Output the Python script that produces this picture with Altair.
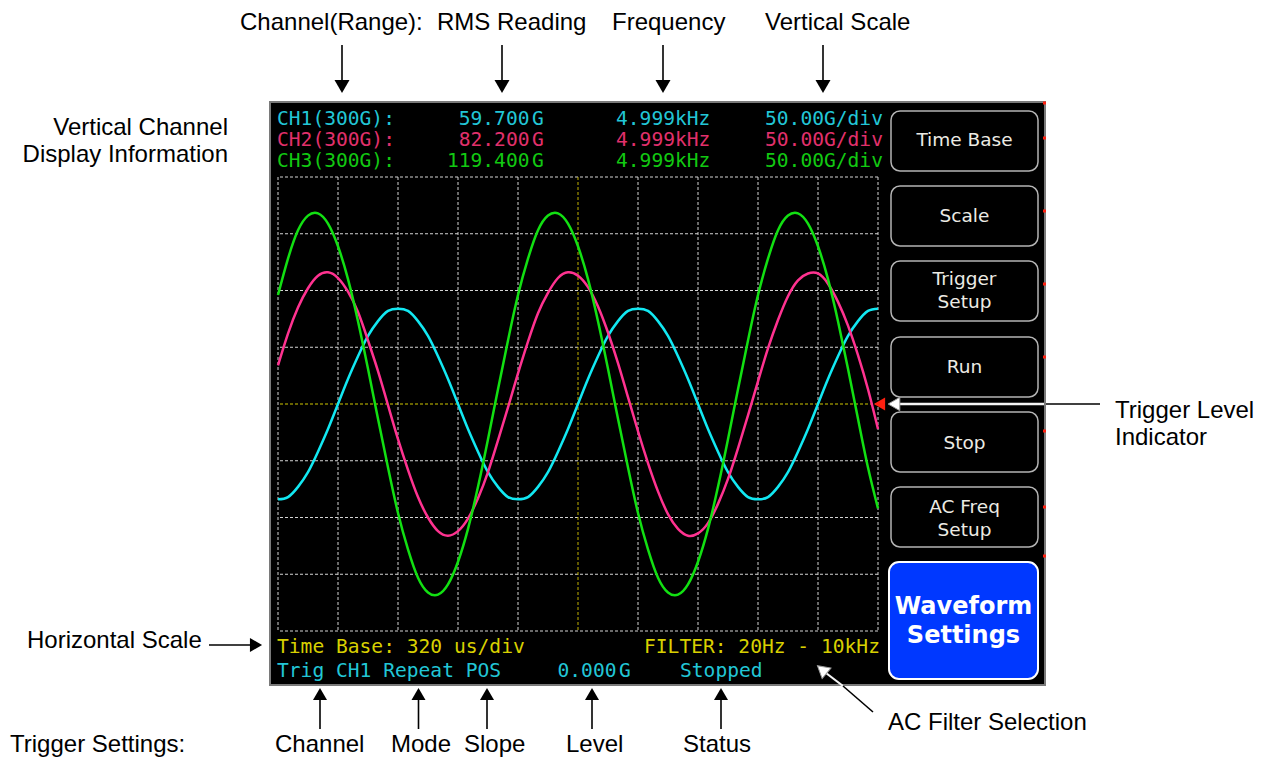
import altair as alt
import pandas as pd

# ---------------- data ----------------
SAMPLES_PER_DIV = 6
TIME_PER_DIV_US = 320
SAMPLE_US = [round(i * TIME_PER_DIV_US / SAMPLES_PER_DIV, 2) for i in range(61)]

CH1_G = [-84, -82, -73, -60, -42, -22, 0, 22, 42, 60, 73, 82, 84, 82, 73, 60, 42, 22, 0, -22, -42, -60, -73, -82,
         -84, -82, -73, -60, -42, -22, 0, 22, 42, 60, 73, 82, 84, 82, 73, 60, 42, 22, 0, -22, -42, -60, -73, -82,
         -84, -82, -73, -60, -42, -22, 0, 22, 42, 60, 73, 82, 84]
CH2_G = [34, 62, 85, 102, 113, 116, 111, 99, 81, 56, 29, -1, -31, -58, -82, -100, -112, -116, -112, -101, -83, -60, -32, -3,
         27, 55, 80, 98, 111, 116, 113, 103, 86, 63, 36, 6, -24, -52, -77, -97, -110, -116, -114, -105, -88, -66, -39, -10,
         20, 49, 74, 95, 109, 115, 115, 106, 90, 69, 43, 13, -22]
CH3_G = [96, 128, 153, 166, 168, 159, 139, 110, 73, 31, -13, -56, -96, -128, -153, -166, -168, -159, -139, -110, -73, -31, 13, 56,
         96, 128, 153, 166, 168, 159, 139, 110, 73, 31, -13, -56, -96, -128, -153, -166, -168, -159, -139, -110, -73, -31, 13, 56,
         96, 128, 153, 166, 168, 159, 139, 110, 73, 31, -13, -56, -92]

CHANNELS = ["CH1", "CH2", "CH3"]
CHANNEL_LABELS = ["CH1(300G):", "CH2(300G):", "CH3(300G):"]
RMS_VALUES = ["59.700", "82.200", "119.400"]
RMS_UNIT = "G"
FREQUENCIES = ["4.999kHz", "4.999kHz", "4.999kHz"]
VERTICAL_SCALES = ["50.00G/div", "50.00G/div", "50.00G/div"]

TIME_GRID_US = [0, 320, 640, 960, 1280, 1600, 1920, 2240, 2560, 2880, 3200]
LEVEL_GRID_G = [-200, -150, -100, -50, 0, 50, 100, 150, 200]
TRIGGER_TIME_US = [1600]
TRIGGER_LEVEL_G = [0]

TIME_BASE_TEXT = "Time Base: 320 us/div"
FILTER_TEXT = "FILTER: 20Hz - 10kHz"
TRIGGER_TEXT = "Trig CH1 Repeat POS"
TRIGGER_LEVEL_VALUE = "0.000"
STATUS_TEXT = "Stopped"

BUTTON_LABELS = [["Time Base"], ["Scale"], ["Trigger", "Setup"], ["Run"], ["Stop"],
                 ["AC Freq", "Setup"], ["Waveform", "Settings"]]

TOP_NOTES = ["Channel(Range):", "RMS Reading", "Frequency", "Vertical Scale"]
LEFT_NOTES = ["Vertical Channel", "Display Information"]
HSCALE_NOTE = "Horizontal Scale"
TRIGGER_LEVEL_NOTE = ["Trigger Level", "Indicator"]
FILTER_NOTE = "AC Filter Selection"
BOTTOM_NOTES = ["Trigger Settings:", "Channel", "Mode", "Slope", "Level", "Status"]

# ---------------- layout / styles ----------------
OX, OY = 278, 177          # page position of plot origin
W, H = 600, 454
MONO = "DejaVu Sans Mono"
SANS = "DejaVu Sans"
NOTE_FONT = "Liberation Sans"
MONO_SIZE = 19.6
NOTE_SIZE = 24

C_CYAN_T, C_PINK_T, C_GREEN_T, C_YEL_T = "#22c6d6", "#e2306c", "#12c812", "#d8d000"
WAVE_COLORS = ["#12e8f2", "#ff3290", "#12e012"]

one = pd.DataFrame({"k": [0]})


def X(v):
    return alt.value(v - OX)


def Y(v):
    return alt.value(v - OY)


def text_layer(txt, x, y, font, size, color, align="left", weight="normal"):
    return alt.Chart(pd.DataFrame({"label": [txt]})).mark_text(
        font=font, fontSize=size, color=color, align=align,
        baseline="alphabetic", fontWeight=weight
    ).encode(text="label:N", x=X(x), y=Y(y))


def rect_layer(x1, y1, x2, y2, fill, stroke=None, sw=1, radius=0):
    kw = dict(fill=fill)
    if stroke:
        kw.update(stroke=stroke, strokeWidth=sw)
    if radius:
        kw["cornerRadius"] = radius
    return alt.Chart(one).mark_rect(**kw).encode(x=X(x1), x2=X(x2), y=Y(y1), y2=Y(y2))


def seg(x1, y1, x2, y2, color, width=1.5):
    return alt.Chart(one).mark_rule(color=color, strokeWidth=width).encode(
        x=X(x1), x2=X(x2), y=Y(y1), y2=Y(y2))


def head(x, y, shape, size, fill, stroke=None, angle=0):
    kw = dict(shape=shape, size=size, filled=True, fill=fill, opacity=1)
    if stroke:
        kw.update(stroke=stroke, strokeWidth=1, strokeOpacity=1)
    else:
        kw.update(strokeWidth=0)
    if angle:
        kw["angle"] = angle
    return alt.Chart(one).mark_point(**kw).encode(x=X(x), y=Y(y))


xscale = alt.Scale(domain=[0, 3200], nice=False, zero=False)
yscale = alt.Scale(domain=[-200, 200], nice=False, zero=False)

layers = []

# screen background
layers.append(rect_layer(270, 102, 1045, 685, "#000000", stroke="#7a7a7a", sw=2))

# grid
gx = [v for v in TIME_GRID_US if v not in TRIGGER_TIME_US]
gy = [v for v in LEVEL_GRID_G if v not in TRIGGER_LEVEL_G]
layers.append(alt.Chart(pd.DataFrame({"t": gx})).mark_rule(
    color="#d4d4d4", strokeDash=[3, 2], strokeWidth=1).encode(
    x=alt.X("t:Q", scale=xscale, axis=None)))
layers.append(alt.Chart(pd.DataFrame({"g": gy})).mark_rule(
    color="#d4d4d4", strokeDash=[3, 2], strokeWidth=1).encode(
    y=alt.Y("g:Q", scale=yscale, axis=None)))
layers.append(alt.Chart(pd.DataFrame({"t": TRIGGER_TIME_US})).mark_rule(
    color="#c0b000", strokeDash=[3, 2], strokeWidth=1).encode(
    x=alt.X("t:Q", scale=xscale, axis=None)))
layers.append(alt.Chart(pd.DataFrame({"g": TRIGGER_LEVEL_G})).mark_rule(
    color="#d0c800", strokeDash=[3, 2], strokeWidth=1).encode(
    y=alt.Y("g:Q", scale=yscale, axis=None)))

# waveforms
wave_df = pd.concat([
    pd.DataFrame({"t": SAMPLE_US, "g": vals, "channel": ch})
    for ch, vals in zip(CHANNELS, [CH1_G, CH2_G, CH3_G])
])
layers.append(alt.Chart(wave_df).mark_line(strokeWidth=2.5, interpolate="natural").encode(
    x=alt.X("t:Q", scale=xscale, axis=None),
    y=alt.Y("g:Q", scale=yscale, axis=None),
    color=alt.Color("channel:N", scale=alt.Scale(domain=CHANNELS, range=WAVE_COLORS), legend=None),
))

# trigger level marker
layers.append(head(879.5, 404, "triangle-left", 170, "#ff2010"))

# header rows
row_base = [125, 146, 166.5]
row_cols = [C_CYAN_T, C_PINK_T, C_GREEN_T]
for i in range(3):
    layers.append(text_layer(CHANNEL_LABELS[i], 277, row_base[i], MONO, MONO_SIZE, row_cols[i]))
    layers.append(text_layer(RMS_VALUES[i], 529.5, row_base[i], MONO, MONO_SIZE, row_cols[i], align="right"))
    layers.append(text_layer(RMS_UNIT, 532, row_base[i], MONO, MONO_SIZE, row_cols[i]))
    layers.append(text_layer(FREQUENCIES[i], 616, row_base[i], MONO, MONO_SIZE, row_cols[i]))
    layers.append(text_layer(VERTICAL_SCALES[i], 765, row_base[i], MONO, MONO_SIZE, row_cols[i]))

# bottom rows
layers.append(text_layer(TIME_BASE_TEXT, 277, 653, MONO, MONO_SIZE, C_YEL_T))
layers.append(text_layer(FILTER_TEXT, 644, 653, MONO, MONO_SIZE, C_YEL_T))
layers.append(text_layer(TRIGGER_TEXT, 277, 677, MONO, MONO_SIZE, C_CYAN_T))
layers.append(text_layer(TRIGGER_LEVEL_VALUE, 616.5, 677, MONO, MONO_SIZE, C_CYAN_T, align="right"))
layers.append(text_layer(RMS_UNIT, 619, 677, MONO, MONO_SIZE, C_CYAN_T))
layers.append(text_layer(STATUS_TEXT, 680, 677, MONO, MONO_SIZE, C_CYAN_T))

# buttons
btn_boxes = [(111, 171), (186, 246), (261, 321), (337, 397), (412, 472), (487, 547)]
btn_base = [[146], [221.5], [285, 308], [373], [448.5], [513, 535.5]]
for (y1, y2), labels, bases in zip(btn_boxes, BUTTON_LABELS[:6], btn_base):
    layers.append(rect_layer(891, y1, 1038, y2, "#000000", stroke="#b4b4b4", sw=1.5, radius=9))
    for lab, b in zip(labels, bases):
        layers.append(text_layer(lab, 964.5, b, SANS, 18.5, "#ecebe4", align="center"))
layers.append(rect_layer(889, 562, 1038, 679, "#0038ff", stroke="#ffffff", sw=2, radius=10))
for lab, b in zip(BUTTON_LABELS[6], [613.5, 643]):
    layers.append(text_layer(lab, 963.5, b, SANS, 24, "#ffffff", align="center", weight="bold"))

# small red marks on the right edge of the screen
for yy in [103, 138, 211, 284, 357, 431, 507, 556]:
    layers.append(rect_layer(1043, yy - 1.5, 1046, yy + 1.5, "#ff2010"))

# ------------- annotations outside the screen -------------
top_x = [240, 437, 612, 765]
for lab, xx in zip(TOP_NOTES, top_x):
    layers.append(text_layer(lab, xx, 30, NOTE_FONT, NOTE_SIZE, "#000000"))
for ax in [342, 502, 663, 823]:
    layers.append(seg(ax, 45, ax, 82, "#000000", 1.6))
    layers.append(head(ax, 86.5, "triangle-down", 225, "#000000"))

layers.append(text_layer(LEFT_NOTES[0], 228, 135, NOTE_FONT, NOTE_SIZE, "#000000", align="right"))
layers.append(text_layer(LEFT_NOTES[1], 228, 162, NOTE_FONT, NOTE_SIZE, "#000000", align="right"))

layers.append(text_layer(HSCALE_NOTE, 27, 648, NOTE_FONT, NOTE_SIZE, "#000000"))
layers.append(seg(209, 645, 252, 645, "#000000", 1.6))
layers.append(head(256, 645, "triangle-right", 196, "#000000"))

layers.append(text_layer(TRIGGER_LEVEL_NOTE[0], 1115, 418, NOTE_FONT, NOTE_SIZE, "#000000"))
layers.append(text_layer(TRIGGER_LEVEL_NOTE[1], 1115, 445, NOTE_FONT, NOTE_SIZE, "#000000"))
layers.append(seg(1046, 404, 1100, 404, "#000000", 1.6))
layers.append(seg(895, 404, 1044, 404, "#f4f4f4", 2.5))
layers.append(head(894, 404, "triangle-left", 180, "#ffffff", stroke="#9a9a9a"))

layers.append(text_layer(FILTER_NOTE, 888, 730, NOTE_FONT, NOTE_SIZE, "#000000"))
layers.append(seg(826, 673, 843, 686, "#f4f4f4", 2.2))
layers.append(seg(843, 686, 873, 712, "#000000", 1.6))
layers.append(head(822, 669.5, "triangle-up", 190, "#ffffff", stroke="#9a9a9a", angle=310))

bottom_x = [10, 275, 391, 464, 566, 683]
for lab, xx in zip(BOTTOM_NOTES, bottom_x):
    layers.append(text_layer(lab, xx, 752, NOTE_FONT, NOTE_SIZE, "#000000"))
for ax in [320, 418.5, 487, 592, 721]:
    layers.append(seg(ax, 698, ax, 729, "#000000", 1.6))
    layers.append(head(ax, 694, "triangle-up", 196, "#000000"))

chart = alt.layer(*layers).properties(
    width=W, height=H,
    padding={"left": OX - 8, "top": OY - 8, "right": 376, "bottom": 127},
    autosize=alt.AutoSizeParams(type="none"),
    background="white",
).configure_view(stroke=None)

chart.save("out.html", embed_options={"renderer": "svg", "actions": False})
